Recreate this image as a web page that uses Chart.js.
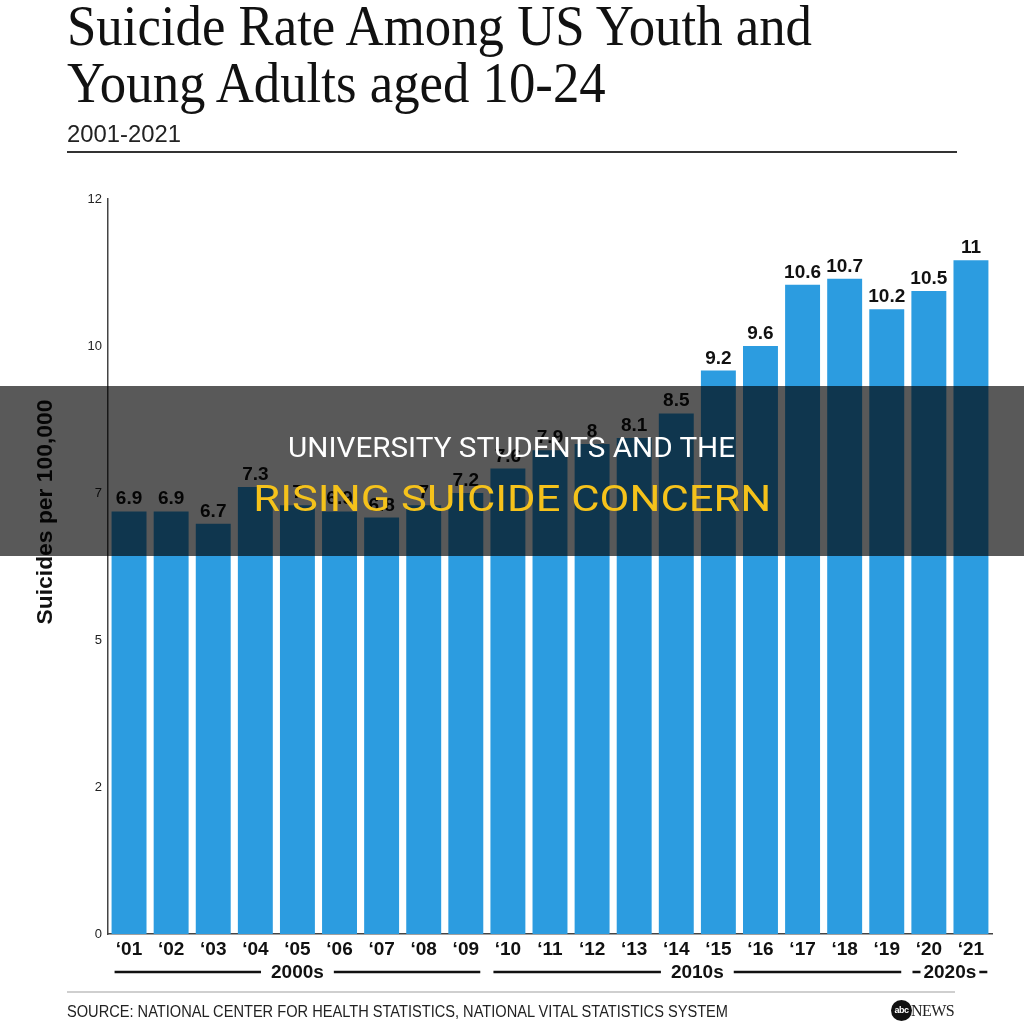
<!DOCTYPE html>
<html>
<head>
<meta charset="utf-8">
<script src="https://cdn.jsdelivr.net/npm/chart.js@4.4.1/dist/chart.umd.min.js"></script>
<style>
  html, body { margin: 0; padding: 0; background: #fff; }
  #page { position: relative; width: 1024px; height: 1024px; overflow: hidden; }
  #chartWrap { position: absolute; left: 0; top: 0; width: 1024px; height: 1024px; }
  .fit { position: absolute; white-space: nowrap; transform-origin: 0 0; }
  .title { left: 67px; font-family: 'Liberation Serif', 'DejaVu Serif', serif; font-size: 58px; line-height: 57px; color: #111; }
  #subtitle { left: 67px; top: 122px; font-family: 'Liberation Sans', Arial, sans-serif; font-size: 24px; line-height: 24px; color: #222; }
  #rule { position: absolute; left: 67px; top: 151px; width: 890px; height: 2px; background: #333; }
  #footRule { position: absolute; left: 67px; top: 991px; width: 888px; height: 2px; background: #cfcfcf; }
  #source { left: 67px; top: 1004px; font-family: 'Liberation Sans', Arial, sans-serif; font-size: 16px; line-height: 16px; color: #222; }
  #logo { position: absolute; left: 891px; top: 1000px; height: 22px; }
  #logo .ball { position: absolute; left: 0; top: 0; width: 21px; height: 21px; border-radius: 50%; background: #111; color: #fff;
    font: bold 9px 'Liberation Sans', Arial, sans-serif; line-height: 21px; text-align: center; letter-spacing: -0.5px; }
  #logo .news { position: absolute; left: 20px; top: 2px; font-family: 'Liberation Serif', serif; font-size: 16px; line-height: 18px; color: #222; letter-spacing: -0.6px; }
  #band { position: absolute; left: 0; top: 386px; width: 1024px; height: 170px; background: rgba(0, 0, 0, 0.65); z-index: 2; }
  .bandText { position: absolute; white-space: nowrap; font-family: Roboto, 'Liberation Sans', sans-serif; transform-origin: 50% 0; z-index: 3; }
  #band1 { top: 435px; font-size: 27px; line-height: 27px; color: #fff; }
  #band2 { top: 481px; font-size: 36px; line-height: 36px; color: #f5c21b; }
</style>
</head>
<body>
<div id="page">
  <div id="chartWrap"><canvas id="rateChart"></canvas></div>

  <div class="fit title" id="title1" style="top:-3px">Suicide Rate Among US Youth and</div>
  <div class="fit title" id="title2" style="top:54px">Young Adults aged 10-24</div>
  <div class="fit" id="subtitle">2001-2021</div>
  <div id="rule"></div>

  <div id="footRule"></div>
  <div class="fit" id="source">SOURCE: NATIONAL CENTER FOR HEALTH STATISTICS, NATIONAL VITAL STATISTICS SYSTEM</div>
  <div id="logo"><div class="ball">abc</div><div class="news">NEWS</div></div>

  <div id="band"></div>
  <div class="bandText" id="band1">UNIVERSITY STUDENTS AND THE</div>
  <div class="bandText" id="band2">RISING SUICIDE CONCERN</div>
</div>

<script>
const years = ['‘01', '‘02', '‘03', '‘04', '‘05', '‘06', '‘07', '‘08', '‘09', '‘10', '‘11',
  '‘12', '‘13', '‘14', '‘15', '‘16', '‘17', '‘18', '‘19', '‘20', '‘21'];
const rates = [6.9, 6.9, 6.7, 7.3, 7, 6.9, 6.8, 7, 7.2, 7.6, 7.9,
  8, 8.1, 8.5, 9.2, 9.6, 10.6, 10.7, 10.2, 10.5, 11];
// the axis is split in five equal steps, labels are shown rounded
const yTicks = [0, 2.4, 4.8, 7.2, 9.6, 12];
const decadeLabels = ['2000s', '2010s', '2020s'];
const decadeFirst = [0, 9, 19];
const decadeLast = [8, 18, 20];

const yTitle = 'Suicides per 100,000';
const barColor = '#2c9ce0';

// squeeze or stretch a text element to a given width
function fitWidth(el, target, keepScale) {
  const w = el.getBoundingClientRect().width;
  const s = keepScale || target / w;
  el.style.transform = 'scaleX(' + s + ')';
  return s;
}

function centerFit(el, target, cx) {
  const w = el.getBoundingClientRect().width;
  el.style.left = (cx - w / 2) + 'px';
  el.style.transform = 'scaleX(' + (target / w) + ')';
}

const s = fitWidth(document.getElementById('title1'), 745);
fitWidth(document.getElementById('title2'), 0, s);
fitWidth(document.getElementById('subtitle'), 114);
fitWidth(document.getElementById('source'), 661);
centerFit(document.getElementById('band1'), 447, 512);
centerFit(document.getElementById('band2'), 518, 512);

const valueLabels = {
  id: 'valueLabels',
  afterDatasetsDraw(chart) {
    const { ctx } = chart;
    const meta = chart.getDatasetMeta(0);
    ctx.save();
    ctx.font = 'bold 19px "Liberation Sans", Arial, sans-serif';
    ctx.fillStyle = '#111';
    ctx.textAlign = 'center';
    ctx.textBaseline = 'alphabetic';
    meta.data.forEach((bar, i) => {
      ctx.fillText(String(rates[i]), bar.x, bar.y - 7);
    });
    ctx.restore();
  },
};

const decades = {
  id: 'decades',
  afterDraw(chart) {
    const { ctx } = chart;
    const meta = chart.getDatasetMeta(0);
    const y = 972;
    ctx.save();
    ctx.font = 'bold 19px "Liberation Sans", Arial, sans-serif';
    ctx.fillStyle = '#111';
    ctx.strokeStyle = '#111';
    ctx.lineWidth = 2.5;
    ctx.textAlign = 'center';
    ctx.textBaseline = 'middle';
    decadeLabels.forEach((label, k) => {
      const a = meta.data[decadeFirst[k]];
      const b = meta.data[decadeLast[k]];
      const left = a.x - a.width / 2 + 3;
      const right = b.x + b.width / 2 - 3;
      const cx = (left + right) / 2;
      const tw = ctx.measureText(label).width;
      let gap = 10;
      let l1 = left, r2 = right;
      if ((right - left - tw) / 2 - gap < 12) {
        gap = 3;
        l1 = cx - tw / 2 - gap - 8;
        r2 = cx + tw / 2 + gap + 8;
      }
      ctx.fillText(label, cx, y + 1);
      ctx.beginPath();
      ctx.moveTo(l1, y);
      ctx.lineTo(cx - tw / 2 - gap, y);
      ctx.moveTo(cx + tw / 2 + gap, y);
      ctx.lineTo(r2, y);
      ctx.stroke();
    });

    // y axis title
    ctx.translate(46, 512);
    ctx.rotate(-Math.PI / 2);
    ctx.font = 'bold 22px "Liberation Sans", Arial, sans-serif';
    const w = ctx.measureText(yTitle).width;
    ctx.scale(225 / w, 1);
    ctx.fillText(yTitle, 0, 0);
    ctx.restore();
  },
};

new Chart(document.getElementById('rateChart'), {
  type: 'bar',
  data: {
    labels: years,
    datasets: [
      {
        data: rates,
        backgroundColor: barColor,
        barPercentage: 0.83,
        categoryPercentage: 1,
      },
    ],
  },
  options: {
    responsive: true,
    maintainAspectRatio: false,
    animation: false,
    layout: { padding: { top: 199, right: 32, bottom: 30, left: 0 } },
    plugins: {
      legend: { display: false },
      tooltip: { enabled: false },
    },
    scales: {
      x: {
        grid: { display: false, drawTicks: false },
        border: { display: true, color: '#444', width: 1.5 },
        ticks: {
          autoSkip: false,
          maxRotation: 0,
          padding: 4,
          color: '#111',
          font: { family: '"Liberation Sans", Arial, sans-serif', size: 19, weight: 'bold' },
        },
        afterFit: (scale) => { scale.height = 60; },
      },
      y: {
        min: 0,
        max: 12,
        grid: { display: false, drawTicks: false },
        border: { display: true, color: '#444', width: 1.5 },
        afterBuildTicks: (scale) => { scale.ticks = yTicks.map((v) => ({ value: v })); },
        ticks: {
          padding: 6,
          color: '#222',
          font: { family: '"Liberation Sans", Arial, sans-serif', size: 13 },
          callback: (v) => Math.round(v),
        },
        afterFit: (scale) => { scale.width = 108; },
      },
    },
  },
  plugins: [valueLabels, decades],
});
</script>
</body>
</html>
